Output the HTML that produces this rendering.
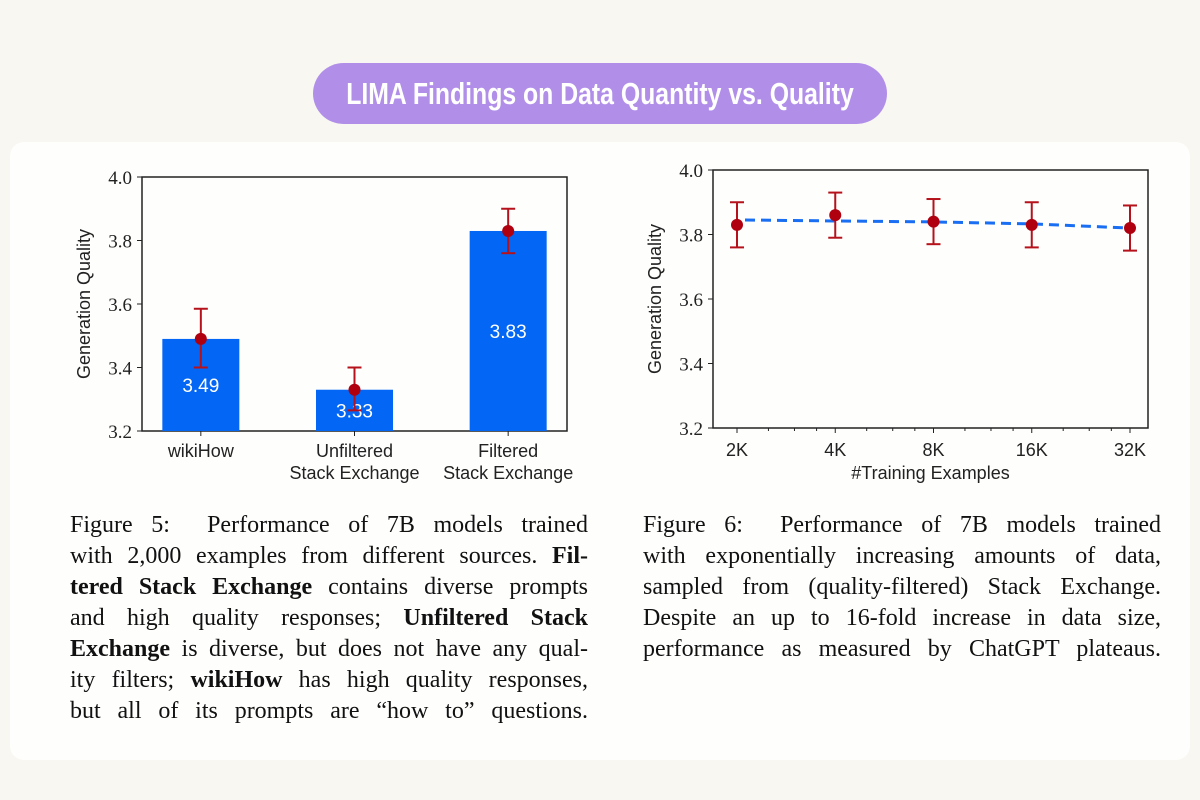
<!DOCTYPE html>
<html><head><meta charset="utf-8"><style>
body{margin:0;width:1200px;height:800px;background:#f8f7f1;position:relative;overflow:hidden;font-family:"Liberation Sans",sans-serif}
.pill{position:absolute;left:313px;top:63px;width:574px;height:61px;border-radius:31px;background:#b18fe9}
.pill span{position:absolute;left:50%;top:0;color:#fff;font-weight:bold;font-size:31px;line-height:61px;transform:translateX(-50%) scaleX(0.8);white-space:nowrap}
.card{position:absolute;left:10px;top:142px;width:1180px;height:618px;background:#fefefd;border-radius:14px}
.cap{position:absolute;font-family:"Liberation Serif",serif;font-size:24px;line-height:31px;color:#111;width:518px}
.cap div{text-align:justify;text-align-last:justify;white-space:nowrap;height:31px}
svg{position:absolute;left:0;top:0}
</style></head><body>
<div class="pill"><span>LIMA Findings on Data Quantity vs. Quality</span></div>
<div class="card"></div>
<svg id="chart" width="1200" height="800"></svg>
<div class="cap" style="left:70px;top:510px">
<div>Figure 5: &nbsp;Performance of 7B models trained</div>
<div>with 2,000 examples from different sources. <b>Fil-</b></div>
<div><b>tered Stack Exchange</b> contains diverse prompts</div>
<div>and high quality responses; <b>Unfiltered Stack</b></div>
<div><b>Exchange</b> is diverse, but does not have any qual-</div>
<div>ity filters; <b>wikiHow</b> has high quality responses,</div>
<div>but all of its prompts are “how to” questions.</div>
</div>
<div class="cap" style="left:643px;top:510px">
<div>Figure 6: &nbsp;Performance of 7B models trained</div>
<div>with exponentially increasing amounts of data,</div>
<div>sampled from (quality-filtered) Stack Exchange.</div>
<div>Despite an up to 16-fold increase in data size,</div>
<div>performance as measured by ChatGPT plateaus.</div>
</div>
<script>
const barCats=["wikiHow","Unfiltered|Stack Exchange","Filtered|Stack Exchange"];
const barVals=[3.49,3.33,3.83];
const barLo=[3.40,3.265,3.76];
const barHi=[3.585,3.40,3.90];
const lineCats=["2K","4K","8K","16K","32K"];
const lineVals=[3.83,3.86,3.84,3.83,3.82];
const lineLo=[3.76,3.79,3.77,3.76,3.75];
const lineHi=[3.90,3.93,3.91,3.90,3.89];
const fitVals=[3.845,3.842,3.839,3.833,3.82];
const yTicks=[3.2,3.4,3.6,3.8,4.0];
const svg=document.getElementById('chart');
const NS='http://www.w3.org/2000/svg';
function mk(t,a,p){const e=document.createElementNS(NS,t);for(const k in a)e.setAttribute(k,a[k]);(p||svg).appendChild(e);return e;}
function axes(x0,x1,y0,y1,yS,title,pre){
  const g=mk('g',{});
  
  
  mk('rect',{x:x0,y:y1,width:x1-x0,height:y0-y1,fill:'none',stroke:'#222','stroke-width':1.5},g);
  yTicks.forEach(v=>{const y=yS(v);
    mk('line',{x1:x0-5,x2:x0,y1:y,y2:y,stroke:'#222'},g);
    const t=mk('text',{x:x0-10,y:y+7,'text-anchor':'end','font-family':'Liberation Serif,serif','font-size':19,fill:'#222'},g);t.textContent=v.toFixed(1);
    
    
  });
  const cy=(y0+y1)/2;
  const t=mk('text',{x:0,y:0,transform:`translate(${x0-52},${cy}) rotate(-90)`,'text-anchor':'middle','font-size':18,fill:'#222'},g);t.textContent=title;
  
  
}
function errbar(x,lo,hi,v,yS,pre){
  const g=mk('g',{});
  
  
  const c='#b5121b';
  mk('line',{x1:x,x2:x,y1:yS(lo),y2:yS(hi),stroke:c,'stroke-width':2},g);
  mk('line',{x1:x-7,x2:x+7,y1:yS(lo),y2:yS(lo),stroke:c,'stroke-width':2},g);
  mk('line',{x1:x-7,x2:x+7,y1:yS(hi),y2:yS(hi),stroke:c,'stroke-width':2},g);
  mk('circle',{cx:x,cy:yS(v),r:6,fill:'#b00010'},g);
}
// Left chart
(function(){
  const x0=142,x1=567,y0=431,y1=177;
  const yS=v=>y0-(v-3.2)/0.8*(y0-y1);
  axes(x0,x1,y0,y1,yS,'Generation Quality','bar');
  const step=(x1-x0)/3,bw=77;
  barCats.forEach((c,i)=>{
    const cx=x0+step*(i+0.5)-12+ i*12;
    const r=mk('rect',{x:cx-bw/2,y:yS(barVals[i]),width:bw,height:y0-yS(barVals[i]),fill:'#0466f5'});
    
    
    const lbl=mk('text',{x:cx,y:(yS(barVals[i])+y0)/2+7,'text-anchor':'middle','font-size':19,fill:'#fff'});lbl.textContent=barVals[i].toFixed(2);
    
    
    errbar(cx,barLo[i],barHi[i],barVals[i],yS,'bar');
    mk('line',{x1:cx,x2:cx,y1:y0,y2:y0+5,stroke:'#222'});
    c.split('|').forEach((s,j)=>{const t=mk('text',{x:cx,y:y0+26+j*22,'text-anchor':'middle','font-size':18,fill:'#222'});t.textContent=s;
      
      });
  });
})();
// Right chart
(function(){
  const x0=713,x1=1148,y0=428,y1=170;
  const yS=v=>y0-(v-3.2)/0.8*(y0-y1);
  axes(x0,x1,y0,y1,yS,'Generation Quality','line');
  const xS=i=>737+i*98.25;
  for(let i=0;i<4;i++){[0.32,0.585,0.81].forEach(f=>{const x=xS(i)+98.25*f;mk('line',{x1:x,x2:x,y1:y0,y2:y0+3,stroke:'#222'});});}
  let d='';fitVals.forEach((v,i)=>{d+=(i?'L':'M')+(i==0?xS(0)+8:xS(i))+' '+yS(v);});
  const p=mk('path',{d:d,fill:'none',stroke:'#1a6ef2','stroke-width':3,'stroke-dasharray':'10 6'});
  
  
  lineCats.forEach((c,i)=>{
    errbar(xS(i),lineLo[i],lineHi[i],lineVals[i],yS,'point');
    mk('line',{x1:xS(i),x2:xS(i),y1:y0,y2:y0+5,stroke:'#222'});
    const t=mk('text',{x:xS(i),y:y0+28,'text-anchor':'middle','font-size':18,fill:'#222'});t.textContent=c;
    
    
  });
  const t=mk('text',{x:(x0+x1)/2,y:y0+51,'text-anchor':'middle','font-size':18,fill:'#222'});t.textContent='#Training Examples';
  
  
})();
</script>
</body></html>
